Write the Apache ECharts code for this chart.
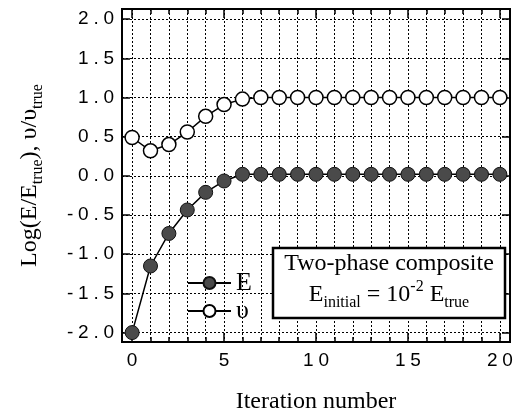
<!DOCTYPE html>
<html>
<head>
<meta charset="utf-8">
<script src="https://cdn.jsdelivr.net/npm/echarts@6/dist/echarts.min.js"></script>
<style>html,body{margin:0;padding:0;background:#fff}#c{width:528px;height:419px}</style>
</head>
<body>
<div id="c"></div>
<script>
const iterations = [0,1,2,3,4,5,6,7,8,9,10,11,12,13,14,15,16,17,18,19,20];
const logE = [-2.0,-1.15,-0.735,-0.435,-0.21,-0.065,0.02,0.02,0.02,0.02,0.02,0.02,0.02,0.02,0.02,0.02,0.02,0.02,0.02,0.02,0.02];
const nuRatio = [0.49,0.32,0.40,0.56,0.76,0.91,0.98,1.0,1.0,1.0,1.0,1.0,1.0,1.0,1.0,1.0,1.0,1.0,1.0,1.0,1.0];
const xMajorTicks = [0,5,10,15,20];
const xMinorTicks = iterations;
const yTicks = [-2.0,-1.5,-1.0,-0.5,0.0,0.5,1.0,1.5,2.0];

const SERIF = '"Liberation Serif","DejaVu Serif",serif';
const SANS = '"Liberation Sans",Arial,sans-serif';
const XMIN = -0.55, XMAX = 20.55, YMIN = -2.12, YMAX = 2.13;

function spaced(s){ return s.split('').join('\u2005'); }

const chart = echarts.init(document.getElementById('c'));
const AL = {show:true,onZero:false,lineStyle:{color:'#000',width:2}};
const xBase = {type:'value', min:XMIN, max:XMAX, axisLine:AL, splitLine:{show:false}, axisLabel:{show:false}};
chart.setOption({
  animation:false,
  backgroundColor:'#fff',
  grid:{left:122,right:18,top:9,bottom:77,show:true,borderColor:'#000',borderWidth:2},
  xAxis:[
    Object.assign({}, xBase, {position:'bottom',
      name:'Iteration number', nameLocation:'middle', nameGap:48,
      nameTextStyle:{fontFamily:SERIF,fontSize:24,color:'#000'},
      axisTick:{show:true,inside:true,length:5,customValues:xMinorTicks,lineStyle:{color:'#000',width:1.5}},
      axisLabel:{show:true,customValues:xMajorTicks,margin:9,fontFamily:SANS,fontSize:19,color:'#000',formatter:v=>spaced(String(v))},
      splitLine:{show:true,lineStyle:{color:'#000',width:1,type:[2,2]}}
    }),
    Object.assign({}, xBase, {position:'bottom',
      axisTick:{show:true,inside:true,length:9,customValues:xMajorTicks,lineStyle:{color:'#000',width:1.5}}}),
    Object.assign({}, xBase, {position:'top',
      axisTick:{show:true,inside:true,length:5,customValues:xMinorTicks,lineStyle:{color:'#000',width:1.5}}}),
    Object.assign({}, xBase, {position:'top',
      axisTick:{show:true,inside:true,length:9,customValues:xMajorTicks,lineStyle:{color:'#000',width:1.5}}})
  ],
  yAxis:[
    {type:'value', min:YMIN, max:YMAX, position:'left',
      name:'{n|Log(E/E}{s|true}{n|), \u03c5/\u03c5}{s|true}', nameLocation:'middle', nameGap:76, nameRotate:90,
      nameTextStyle:{color:'#000', rich:{
        n:{fontFamily:SERIF,fontSize:24,lineHeight:32,verticalAlign:'middle',color:'#000'},
        s:{fontFamily:SERIF,fontSize:16,lineHeight:16,verticalAlign:'bottom',color:'#000'}}},
      axisLine:AL,
      axisTick:{show:true,inside:true,length:8,customValues:yTicks,lineStyle:{color:'#000',width:1.5}},
      axisLabel:{show:true,customValues:yTicks,margin:8,fontFamily:SANS,fontSize:19,color:'#000',formatter:v=>spaced(v.toFixed(1))},
      splitLine:{show:true,lineStyle:{color:'#000',width:1,type:[2,2]}}
    },
    {type:'value', min:YMIN, max:YMAX, position:'right',
      axisLine:AL,
      axisTick:{show:true,inside:true,length:8,customValues:yTicks,lineStyle:{color:'#000',width:1.5}},
      axisLabel:{show:false}, splitLine:{show:false}
    }
  ],
  legend:{
    orient:'vertical', left:182, top:265, itemWidth:43, itemHeight:15, itemGap:2,
    textStyle:{fontFamily:SERIF,fontSize:26,lineHeight:26,color:'#000'},
    data:['E','\u03c5']
  },
  graphic:[
    {type:'rect', z:100, shape:{x:273,y:248,width:232,height:70}, style:{fill:'#fff',stroke:'#000',lineWidth:2.5}},
    {type:'text', z:101, x:389, y:264, style:{text:'Two-phase composite', fontFamily:SERIF, fontSize:24, fill:'#000', align:'center', verticalAlign:'middle'}},
    {type:'text', z:101, x:389, y:295, style:{
      text:'{n|E}{s|initial}{n| = 10}{p|-2}{n| E}{s|true}', align:'center', verticalAlign:'middle',
      rich:{
        n:{fontFamily:SERIF,fontSize:24,lineHeight:32,verticalAlign:'middle',fill:'#000'},
        s:{fontFamily:SERIF,fontSize:16,lineHeight:16,verticalAlign:'bottom',fill:'#000'},
        p:{fontFamily:SERIF,fontSize:16,lineHeight:16,verticalAlign:'top',fill:'#000'}
      }}}
  ],
  series:[
    {name:'E', type:'line', xAxisIndex:0, yAxisIndex:0, data:iterations.map((x,i)=>[x,logE[i]]),
      symbol:'circle', symbolSize:14, z:5,
      lineStyle:{color:'#000',width:1.5},
      itemStyle:{color:'#4a4a4a',borderColor:'#111',borderWidth:1}},
    {name:'\u03c5', type:'line', xAxisIndex:0, yAxisIndex:0, data:iterations.map((x,i)=>[x,nuRatio[i]]),
      symbol:'circle', symbolSize:14, z:5,
      lineStyle:{color:'#000',width:1.5},
      itemStyle:{color:'#fff',borderColor:'#000',borderWidth:1.5}}
  ]
});
</script>
</body>
</html>
